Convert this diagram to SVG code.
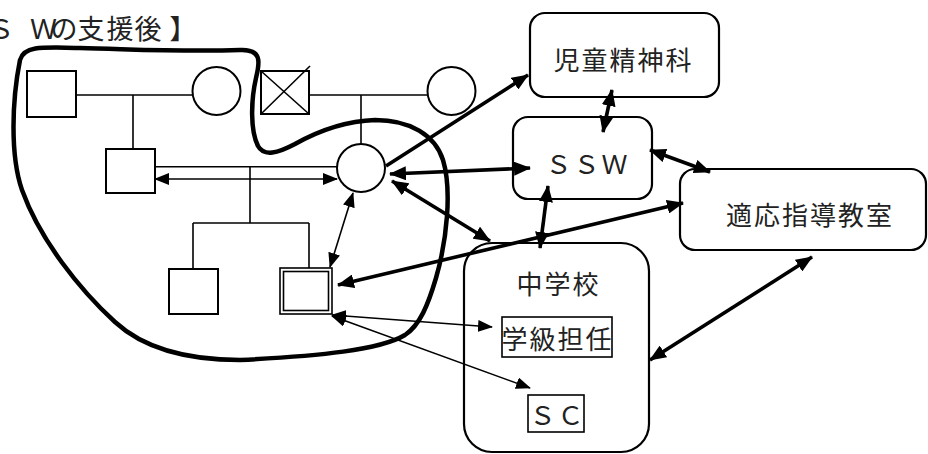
<svg xmlns="http://www.w3.org/2000/svg" width="928" height="454" viewBox="0 0 928 454">
  <style>
    .bg { fill: #ffffff; }
    .sym { fill: #ffffff; stroke: #000; stroke-width: 2; }
    .kin { fill: none; stroke: #000; stroke-width: 1.6; }
    .box { fill: #ffffff; stroke: #000; stroke-width: 2.2; }
    .tag { fill: #ffffff; stroke: #000; stroke-width: 1.6; }
    .loop { fill: none; stroke: #000; stroke-width: 4.5; stroke-linejoin: round; }
    .thick { fill: none; stroke: #000; stroke-width: 3.6; }
    .thin { fill: none; stroke: #000; stroke-width: 1.6; }
    .lbl { font-family: "Noto Sans CJK JP", "Noto Sans CJK SC", sans-serif; font-size: 26px; fill: #222; text-anchor: middle; dominant-baseline: central; letter-spacing: 2px; }
    .title { font-family: "Noto Sans CJK JP", "Noto Sans CJK SC", sans-serif; font-size: 27px; fill: #222; text-anchor: middle; dominant-baseline: central; }
  </style>
  <defs>
    <marker id="headThick" viewBox="0 0 17 14" refX="16" refY="7" markerWidth="17" markerHeight="14" markerUnits="userSpaceOnUse" orient="auto-start-reverse">
      <path d="M0,0 L17,7 L0,14 Z" fill="#000"/>
    </marker>
    <marker id="headThin" viewBox="0 0 15 12" refX="14" refY="6" markerWidth="15" markerHeight="12" markerUnits="userSpaceOnUse" orient="auto-start-reverse">
      <path d="M0,0 L15,6 L0,12 Z" fill="#000"/>
    </marker>
  </defs>

  <rect class="bg" x="0" y="0" width="928" height="454"/>

  <!-- heading (its first letter runs past the left edge) -->
  <text class="title" y="27" x="1 43.5 64 91 120 148 183">ＳＷの支援後】</text>

  <!-- genogram -->
  <g id="genogram-lines">
    <line class="kin" x1="76" y1="95" x2="192" y2="95"/>
    <line class="kin" x1="133" y1="95" x2="133" y2="149"/>
    <line class="kin" x1="309" y1="95" x2="427" y2="95"/>
    <line class="kin" x1="361" y1="95" x2="361" y2="144"/>
    <line class="kin" x1="155" y1="166.7" x2="337" y2="166.7"/>
    <line class="kin" x1="250" y1="166.7" x2="250" y2="223"/>
    <line class="kin" x1="193" y1="223" x2="309" y2="223"/>
    <line class="kin" x1="193" y1="223" x2="193" y2="269"/>
    <line class="kin" x1="309" y1="223" x2="309" y2="268"/>
  </g>
  <g id="grandfather-1"><rect class="sym" x="27" y="71" width="49" height="46"/></g>
  <g id="grandmother-1"><circle class="sym" cx="216.5" cy="91" r="24"/></g>
  <g id="grandfather-2">
    <rect class="sym" x="261" y="71" width="48" height="43"/>
    <line class="kin" x1="261" y1="71" x2="309" y2="114"/>
    <line class="kin" x1="261" y1="114" x2="310" y2="66"/>
  </g>
  <g id="grandmother-2"><circle class="sym" cx="451.5" cy="91" r="24"/></g>
  <g id="father"><rect class="sym" x="106" y="149" width="49" height="44"/></g>
  <g id="mother"><circle class="sym" cx="361" cy="168" r="24"/></g>
  <g id="sibling"><rect class="sym" x="169" y="269" width="49" height="45"/></g>
  <g id="client">
    <rect class="tag" x="280" y="268" width="52" height="46"/>
    <rect class="tag" x="283.5" y="271.5" width="45" height="39"/>
  </g>

  <!-- household boundary -->
  <path id="household" class="loop" d="M20,60 C24,46 40,47 80,48 C130,49 180,52 240,50 C262,49 260,62 256,78 C251,100 250,130 258,146 C264,157 278,153 295,144 C320,130 345,121 375,120 C410,120 435,135 443,160 C452,190 447,240 436,278 C428,305 420,325 405,335 C380,350 320,356 240,360 C180,360 140,345 115,322 C80,290 40,240 22,190 C10,155 12,100 20,60 Z"/>

  <!-- agencies -->
  <g id="psychiatry">
    <rect class="box" x="530" y="13" width="189" height="84" rx="15"/>
    <text class="lbl" x="623.5" y="58">児童精神科</text>
  </g>
  <g id="ssw">
    <rect class="box" x="513" y="117" width="139" height="82" rx="15"/>
    <text class="lbl" x="587.5" y="162">ＳＳＷ</text>
  </g>
  <g id="support-class">
    <rect class="box" x="680" y="169" width="246" height="81" rx="15"/>
    <text class="lbl" x="810" y="213.5">適応指導教室</text>
  </g>
  <g id="junior-high">
    <rect class="box" x="464" y="243" width="185" height="209" rx="28"/>
    <text class="lbl" x="558.5" y="282.5">中学校</text>
  </g>
  <g id="homeroom-teacher">
    <rect class="tag" x="502" y="317" width="110" height="40"/>
    <text class="lbl" x="557.5" y="337.5">学級担任</text>
  </g>
  <g id="school-counselor">
    <rect class="tag" x="528" y="395" width="56" height="37"/>
    <text class="lbl" x="557.5" y="413.5">ＳＣ</text>
  </g>

  <!-- connectors -->
  <g id="connectors">
    <line class="thick" x1="386" y1="166" x2="528" y2="75" marker-end="url(#headThick)"/>
    <line class="thick" x1="612" y1="90" x2="603" y2="132" marker-start="url(#headThick)" marker-end="url(#headThick)"/>
    <line class="thick" x1="390" y1="174" x2="530" y2="168" marker-start="url(#headThick)" marker-end="url(#headThick)"/>
    <line class="thick" x1="392" y1="181" x2="490" y2="241" marker-start="url(#headThick)" marker-end="url(#headThick)"/>
    <line class="thick" x1="548" y1="186" x2="540" y2="248" marker-start="url(#headThick)" marker-end="url(#headThick)"/>
    <line class="thick" x1="650" y1="150" x2="710" y2="172" marker-start="url(#headThick)" marker-end="url(#headThick)"/>
    <line class="thick" x1="338" y1="285" x2="683" y2="203" marker-start="url(#headThick)" marker-end="url(#headThick)"/>
    <line class="thick" x1="650" y1="360" x2="812" y2="257" marker-start="url(#headThick)" marker-end="url(#headThick)"/>
    <line class="thin" x1="155" y1="179" x2="337" y2="179" marker-start="url(#headThin)" marker-end="url(#headThin)"/>
    <line class="thin" x1="353" y1="193" x2="330" y2="267" marker-start="url(#headThin)" marker-end="url(#headThin)"/>
    <line class="thin" x1="332" y1="315" x2="492" y2="327" marker-start="url(#headThin)" marker-end="url(#headThin)"/>
    <line class="thin" x1="332" y1="316" x2="530" y2="388" marker-start="url(#headThin)" marker-end="url(#headThin)"/>
  </g>
</svg>
